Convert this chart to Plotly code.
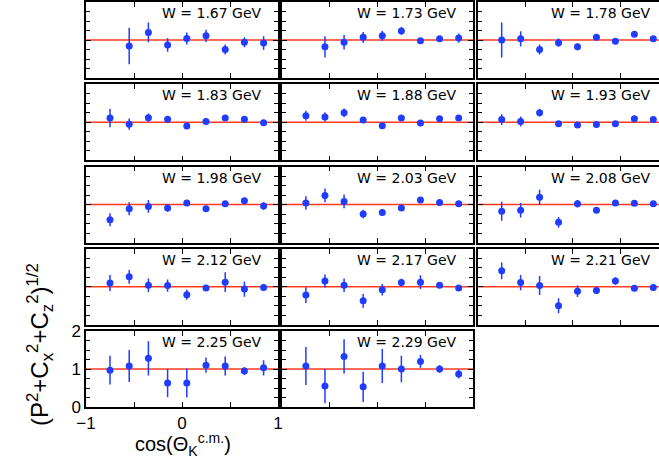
import plotly.graph_objects as go

W = 659
H = 461

COS = [-0.75, -0.55, -0.35, -0.15, 0.05, 0.25, 0.45, 0.65, 0.85]
W_LABELS = ["1.67", "1.73", "1.78", "1.83", "1.88", "1.93", "1.98",
            "2.03", "2.08", "2.12", "2.17", "2.21", "2.25", "2.29"]

V_167 = [None, 0.84, 1.20, 0.87, 1.04, 1.11, 0.75, 0.94, 0.92]
E_167 = [None, 0.48, 0.26, 0.18, 0.16, 0.16, 0.13, 0.13, 0.18]
V_173 = [None, 0.82, 0.94, 1.07, 1.11, 1.24, 0.98, 1.03, 1.05]
E_173 = [None, 0.28, 0.19, 0.14, 0.13, 0.10, 0.06, 0.07, 0.12]
V_178 = [1.00, 1.03, 0.75, 0.93, 0.82, 1.07, 0.97, 1.15, 1.03]
E_178 = [0.46, 0.20, 0.13, 0.11, 0.09, 0.07, 0.06, 0.06, 0.07]
V_183 = [1.11, 0.95, 1.12, 1.08, 0.90, 1.02, 1.11, 1.08, 0.99]
E_183 = [0.24, 0.15, 0.11, 0.08, 0.08, 0.06, 0.06, 0.06, 0.06]
V_188 = [1.17, 1.14, 1.25, 1.06, 0.91, 1.11, 0.98, 1.09, 1.11]
E_188 = [0.13, 0.12, 0.11, 0.07, 0.07, 0.06, 0.06, 0.06, 0.06]
V_193 = [1.07, 1.02, 1.25, 0.96, 0.93, 0.94, 0.96, 1.09, 1.07]
E_193 = [0.14, 0.13, 0.10, 0.06, 0.06, 0.06, 0.06, 0.06, 0.06]
V_198 = [0.60, 0.89, 0.95, 0.91, 1.04, 0.89, 1.02, 1.10, 0.96]
E_198 = [0.17, 0.17, 0.17, 0.10, 0.07, 0.06, 0.06, 0.06, 0.10]
V_203 = [1.04, 1.24, 1.08, 0.75, 0.79, 0.91, 1.12, 1.05, 1.02]
E_203 = [0.18, 0.18, 0.18, 0.11, 0.08, 0.08, 0.07, 0.07, 0.07]
V_208 = [0.82, 0.85, 1.19, 0.53, 1.02, 0.85, 1.04, 1.03, 1.02]
E_208 = [0.25, 0.19, 0.20, 0.14, 0.10, 0.07, 0.06, 0.06, 0.06]
V_212 = [1.10, 1.26, 1.04, 1.03, 0.79, 0.97, 1.12, 0.94, 0.98]
E_212 = [0.21, 0.18, 0.18, 0.16, 0.13, 0.07, 0.26, 0.20, 0.06]
V_217 = [0.78, 1.15, 1.04, 0.63, 0.92, 1.11, 1.12, 1.04, 0.97]
E_217 = [0.21, 0.17, 0.18, 0.18, 0.15, 0.10, 0.18, 0.07, 0.06]
V_221 = [1.42, 1.11, 1.03, 0.50, 0.88, 0.90, 1.15, 0.96, 0.98]
E_221 = [0.22, 0.20, 0.25, 0.20, 0.15, 0.09, 0.10, 0.06, 0.06]
V_225 = [0.97, 1.08, 1.28, 0.63, 0.63, 1.10, 1.08, 0.95, 1.03]
E_225 = [0.38, 0.42, 0.45, 0.37, 0.38, 0.20, 0.25, 0.10, 0.20]
V_229 = [1.08, 0.55, 1.33, 0.53, 1.08, 1.00, 1.20, 1.00, 0.87]
E_229 = [0.50, 0.45, 0.45, 0.40, 0.45, 0.35, 0.17, 0.10, 0.12]

VALUES = [V_167, V_173, V_178, V_183, V_188, V_193, V_198,
          V_203, V_208, V_212, V_217, V_221, V_225, V_229]
ERRORS = [E_167, E_173, E_178, E_183, E_188, E_193, E_198,
          E_203, E_208, E_212, E_217, E_221, E_225, E_229]

X_TICKS = [-1, 0, 1]
X_TICKTEXT = ["\u22121", "0", "1"]
Y_TICKS = [0, 1, 2]
Y_TICKTEXT = ["0", "1", "2"]

BLUE = "#1f3cff"
RED = "#ff3a1e"

# panel pixel geometry
COL_PX = [(86, 278), (282, 473), (478, 659)]
COL_XMAX = [1.0, 1.0, 0.91]
ROW_TOP0 = 2
ROW_PITCH = 82.25
ROW_H = 76

fig = go.Figure()
layout = {}
shapes = []
annotations = []

for i, (lab, vals, errs) in enumerate(zip(W_LABELS, VALUES, ERRORS)):
    n = i + 1
    row, col = divmod(i, 3)
    xs = "" if n == 1 else str(n)
    xa = "x" + xs
    ya = "y" + xs
    x0p, x1p = COL_PX[col]
    top = ROW_TOP0 + ROW_PITCH * row
    bot = top + ROW_H
    labelled = (i == 12)

    fig.add_trace(go.Scatter(
        x=COS, y=vals, xaxis=xa, yaxis=ya, mode="markers",
        marker=dict(color=BLUE, size=7, symbol="circle"),
        error_y=dict(type="data", array=errs, color=BLUE, thickness=1.5, width=0),
        showlegend=False, cliponaxis=True, hoverinfo="skip",
    ))

    layout["xaxis" + xs] = dict(
        domain=[x0p / W, x1p / W], range=[-1, COL_XMAX[col]], anchor=ya,
        showline=True, linecolor="black", linewidth=1.5, mirror="ticks",
        ticks="inside", ticklen=5, tickwidth=1, tickcolor="black",
        tickvals=X_TICKS, ticktext=X_TICKTEXT, showticklabels=labelled,
        minor=dict(ticks="inside", tick0=-1, dtick=0.5, ticklen=5,
                   tickwidth=1, tickcolor="black", showgrid=False),
        showgrid=False, zeroline=False, automargin=False,
        tickfont=dict(family="Liberation Sans, Arial", size=17, color="black"),
    )
    layout["yaxis" + xs] = dict(
        domain=[1 - bot / H, 1 - top / H], range=[0, 2], anchor=xa,
        showline=True, linecolor="black", linewidth=1.5,
        mirror=("ticks" if col < 2 else False),
        ticks="inside", ticklen=5, tickwidth=1, tickcolor="black",
        tickvals=Y_TICKS, ticktext=Y_TICKTEXT, showticklabels=labelled,
        minor=dict(ticks="inside", tick0=0, dtick=0.25, ticklen=4,
                   tickwidth=1, tickcolor="black", showgrid=False),
        showgrid=False, zeroline=False, automargin=False,
        tickfont=dict(family="Liberation Sans, Arial", size=17, color="black"),
    )

    shapes.append(dict(type="line", xref=xa + " domain", yref=ya,
                       x0=0, x1=1, y0=1, y1=1,
                       line=dict(color=RED, width=1.5), layer="below"))
    annotations.append(dict(
        text="W = " + lab + " GeV", xref=xa, yref=ya, x=0.85, y=1.71,
        xanchor="right", yanchor="middle", showarrow=False,
        font=dict(family="DejaVu Sans", size=14, color="black"),
    ))

annotations.append(dict(
    text="cos(\u0398<sub>K</sub><sup>c.m.</sup>)", xref="paper", yref="paper",
    x=183 / W, y=1 - 444 / H, xanchor="center", yanchor="middle", showarrow=False,
    font=dict(family="Liberation Sans, Arial", size=20, color="black"),
))
annotations.append(dict(
    text="(P<sup>2</sup>+C<sub>x</sub><sup>2</sup>+C<sub>z</sub><sup>2</sup>)<sup>1/2</sup>",
    xref="paper", yref="paper", x=40 / W, y=1 - 345 / H, textangle=-90,
    xanchor="center", yanchor="middle", showarrow=False,
    font=dict(family="Liberation Sans, Arial", size=24, color="black"),
))

fig.update_layout(
    width=W, height=H, margin=dict(l=0, r=0, t=0, b=0, autoexpand=False),
    paper_bgcolor="white", plot_bgcolor="white", hovermode=False,
    shapes=shapes, annotations=annotations, **layout,
)

fig.write_html("out.html", config={"displayModeBar": False},
               post_script="document.body.style.margin='0px';")
